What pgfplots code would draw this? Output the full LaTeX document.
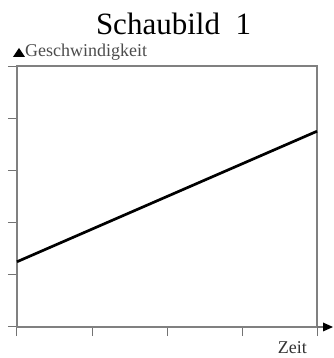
\documentclass[border=0pt]{standalone}
\usepackage{fontspec}
\setmainfont{Liberation Serif}
\usepackage{pgfplots}
\pgfplotsset{compat=1.18}

\begin{document}
\begin{tikzpicture}
\begin{axis}[
  scale only axis,
  width=300pt, height=261pt,
  xmin=0, xmax=4, ymin=0, ymax=5,
  xtick={0,1,2,3,4}, ytick={0,1,2,3,4,5},
  xticklabels={}, yticklabels={},
  xtick pos=bottom, ytick pos=left,
  tick align=outside,
  major tick length=9pt,
  tick style={black!55, line width=1pt},
  axis line style={black!50, line width=1.2pt},
  clip=false,
]
  \addplot[black, line width=2.7pt] coordinates {(0,1.25) (4,3.75)};
\end{axis}
% axis extensions and arrowheads
\draw[black!55, line width=1.2pt] (300pt,0) -- (307pt,0);
\fill[black] (306pt,4.5pt) -- (316pt,0) -- (306pt,-4.5pt) -- cycle;
\fill[black] (-4pt,270pt) -- (2pt,279pt) -- (8pt,270pt) -- cycle;
% texts
\node[anchor=base, inner sep=0pt, font=\fontsize{31}{36}\selectfont] at (156.5pt,292pt) {Schaubild\ \ 1};
\node[anchor=base west, inner sep=0pt, text=black!70, font=\fontsize{18}{22}\selectfont] at (8pt,270pt) {Geschwindigkeit};
\node[anchor=base east, inner sep=0pt, text=black!80, font=\fontsize{18}{22}\selectfont] at (290pt,-27pt) {Zeit};
\pgfresetboundingbox
\useasboundingbox (-17pt,-31pt) rectangle (316pt,327pt);
\end{tikzpicture}
\end{document}
